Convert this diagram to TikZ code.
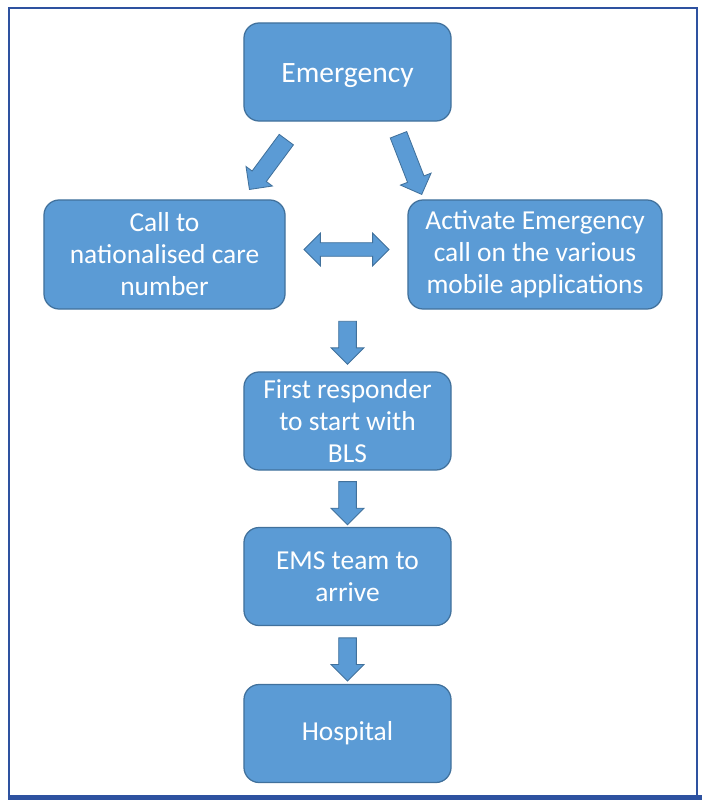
\documentclass[tikz,border=0pt]{standalone}
\usepackage{fontspec}
\setmainfont{Carlito}
\usetikzlibrary{shapes.arrows,calc}
\definecolor{boxblue}{HTML}{5B9BD5}
\definecolor{boxline}{HTML}{41719C}
\definecolor{frameblue}{HTML}{2E52A0}

\begin{document}
\begin{tikzpicture}[x=0.025cm,y=-0.025cm]
    \tikzstyle{box}=[rectangle,rounded corners=0.38cm,draw=boxline,line width=0.9pt,fill=boxblue,text=white,align=center,inner sep=0pt,font=\fontsize{19.5}{22.7}\selectfont,minimum width=5.175cm,minimum height=2.45cm]
    \tikzstyle{blockarrow}=[single arrow,draw=boxline,fill=boxblue,line width=0.6pt,inner xsep=0pt,inner ysep=0.21cm,single arrow head extend=0.19cm,minimum height=1.075cm]
    \useasboundingbox (0,0) rectangle (702,800);

    % frame
    \draw[frameblue,line width=1.2pt] (9,795) -- (9,8) -- (697,8) -- (697,795);
    \fill[frameblue] (8,795) rectangle (702,800);

      \node (emerg) at (347.5,72) [box,font=\fontsize{21}{22.7}\selectfont,execute at begin node={\rule{0pt}{19pt}}] {Emergency};
      \node (call) at (164.5,254.5) [box,minimum width=6.025cm,minimum height=2.725cm] {Call to\\nationalised care\\number};
      \node (app) at (535,254.5) [box,minimum width=6.35cm,minimum height=2.725cm] {Activate Emergency\\call on the various\\mobile applications};
      \node (resp) at (347.5,421) [box] {First responder\\to start with\\BLS};
      \node (ems) at (347.5,576.5) [box] {EMS team to\\arrive};
      \node (hosp) at (347.5,733.5) [box] {Hospital};

      \node (a1) at (270.5,161) [blockarrow,rotate=-126.5,minimum height=1.55cm] {};
      \node (a2) at (408.5,160.5) [blockarrow,rotate=-68.7,minimum height=1.6cm] {};
      \node (a3) at ($(call.east)!0.5!(app.west)+(0,-5)$) [double arrow,draw=boxline,fill=boxblue,line width=0.6pt,inner xsep=0pt,inner ysep=0.16cm,double arrow head extend=0.24cm,minimum height=2.125cm] {};
      \node (a4) at ($(resp.north)+(0,-33)$) [blockarrow,rotate=-90] {};
      \node (a5) at ($(resp.south)!0.5!(ems.north)$) [blockarrow,rotate=-90] {};
      \node (a6) at ($(ems.south)!0.5!(hosp.north)$) [blockarrow,rotate=-90] {};
  \end{tikzpicture}
\end{document}
